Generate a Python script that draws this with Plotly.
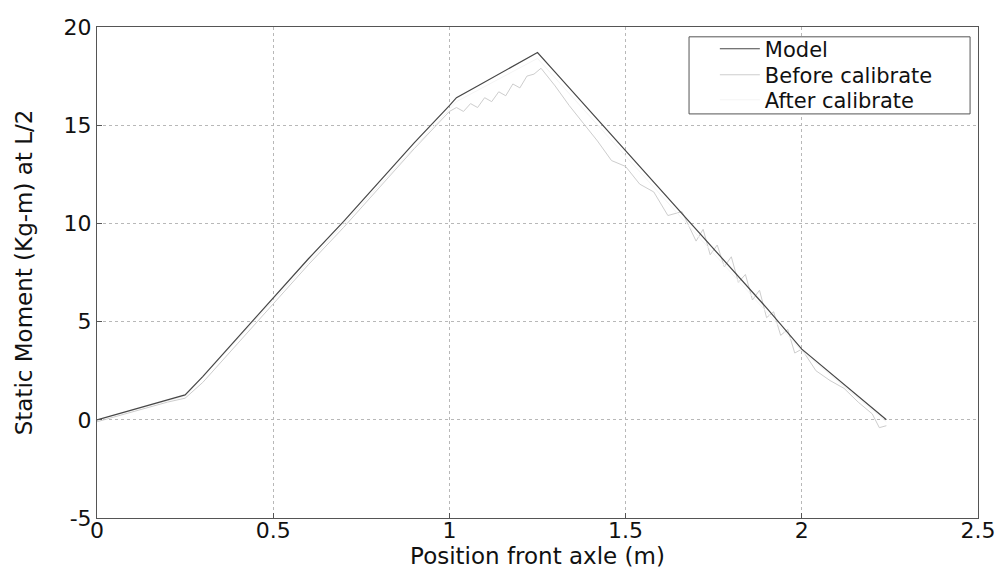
import plotly.graph_objects as go

# Model (piecewise)
model_x = [0.0, 0.05, 0.10, 0.15, 0.20, 0.25, 0.30, 0.40, 0.50, 0.60, 0.70, 0.80, 0.90, 1.00, 1.02,
           1.08, 1.14, 1.20, 1.25, 1.30, 1.40, 1.50, 1.60, 1.70, 1.80, 1.90, 2.00, 2.10, 2.20, 2.24]
model_y = [0.0, 0.25, 0.5, 0.75, 1.0, 1.27, 2.2, 4.2, 6.2, 8.2, 10.1, 12.1, 14.1, 16.0, 16.4,
           17.0, 17.6, 18.2, 18.7, 17.7, 15.7, 13.7, 11.7, 9.7, 7.7, 5.7, 3.6, 2.1, 0.6, 0.0]

# Before calibrate (noisy, light grey)
before_x = [0.0, 0.05, 0.10, 0.15, 0.20, 0.25, 0.30, 0.40, 0.50, 0.60, 0.70, 0.80, 0.90, 1.00,
            1.02, 1.04, 1.06, 1.08, 1.10, 1.12, 1.14, 1.16, 1.18, 1.20, 1.22, 1.24, 1.26,
            1.30, 1.34, 1.38, 1.42, 1.46, 1.50, 1.54, 1.58, 1.62, 1.66, 1.70, 1.72, 1.74,
            1.76, 1.78, 1.80, 1.82, 1.84, 1.86, 1.88, 1.90, 1.92, 1.94, 1.96, 1.98, 2.00,
            2.04, 2.08, 2.12, 2.16, 2.20, 2.22, 2.24]
before_y = [-0.1, 0.15, 0.4, 0.65, 0.9, 1.1, 1.9, 3.9, 5.9, 7.9, 9.8, 11.8, 13.8, 15.7,
            15.9, 15.7, 16.1, 15.9, 16.4, 16.2, 16.7, 16.5, 17.1, 16.9, 17.5, 17.6, 17.9,
            17.0, 16.0, 15.1, 14.2, 13.2, 12.9, 12.0, 11.6, 10.4, 10.6, 9.1, 9.7, 8.4,
            8.9, 7.8, 8.3, 7.0, 7.4, 6.1, 6.6, 5.2, 5.5, 4.3, 4.6, 3.4, 3.6,
            2.5, 2.0, 1.6, 0.9, 0.3, -0.4, -0.3]

# After calibrate (almost invisible)
after_x = [0.0, 0.25, 1.02, 1.25, 2.0, 2.24]
after_y = [0.0, 1.2, 16.2, 18.4, 3.5, -0.1]

x_ticks = [0, 0.5, 1, 1.5, 2, 2.5]
x_ticktext = ["0", "0.5", "1", "1.5", "2", "2.5"]
y_ticks = [-5, 0, 5, 10, 15, 20]
y_ticktext = ["-5", "0", "5", "10", "15", "20"]

font = "DejaVu Sans"
TXT = "#111111"

fig = go.Figure()
fig.add_trace(go.Scatter(x=before_x, y=before_y, mode="lines", name="Before calibrate",
                         line=dict(color="#cdcdcd", width=1), legend="legend2"))
fig.add_trace(go.Scatter(x=after_x, y=after_y, mode="lines", name="After calibrate",
                         line=dict(color="#f4f4f4", width=1), legend="legend3"))
fig.add_trace(go.Scatter(x=model_x, y=model_y, mode="lines", name="Model",
                         line=dict(color="#474747", width=1.2), legend="legend"))

axis_common = dict(showgrid=True, gridcolor="#b8b8b8", griddash="dot", gridwidth=1,
                   showline=True, linecolor="#555555", linewidth=1, mirror=True,
                   ticks="inside", ticklen=5, tickcolor="#555555", zeroline=False,
                   automargin=False,
                   tickfont=dict(size=22, color=TXT, family=font))

def leg(y):
    return dict(x=0.7013, y=y, xanchor="left", yanchor="middle",
                borderwidth=0, bgcolor="rgba(0,0,0,0)",
                font=dict(size=21, color=TXT, family=font), itemwidth=40)

fig.update_layout(
    width=996, height=572,
    margin=dict(l=97, r=18, t=27, b=54),
    paper_bgcolor="white", plot_bgcolor="white",
    font=dict(family=font, color=TXT),
    showlegend=True,
    legend=leg(0.955), legend2=leg(0.902), legend3=leg(0.851),
    xaxis=dict(range=[0, 2.5], tickvals=x_ticks, ticktext=x_ticktext, ticklabelstandoff=-7,
               title=dict(text="Position front axle (m)", font=dict(size=23, family=font), standoff=2),
               **axis_common),
    yaxis=dict(range=[-5, 20], tickvals=y_ticks, ticktext=y_ticktext,
               title=dict(text="Static Moment (Kg-m) at L/2", font=dict(size=23, family=font), standoff=24),
               **axis_common),
    shapes=[dict(type="rect", xref="paper", yref="paper", x0=0.672, x1=0.991, y0=0.823, y1=0.980,
                 line=dict(color="#555555", width=1), fillcolor="white", layer="above")],
)

fig.write_html("out.html")
